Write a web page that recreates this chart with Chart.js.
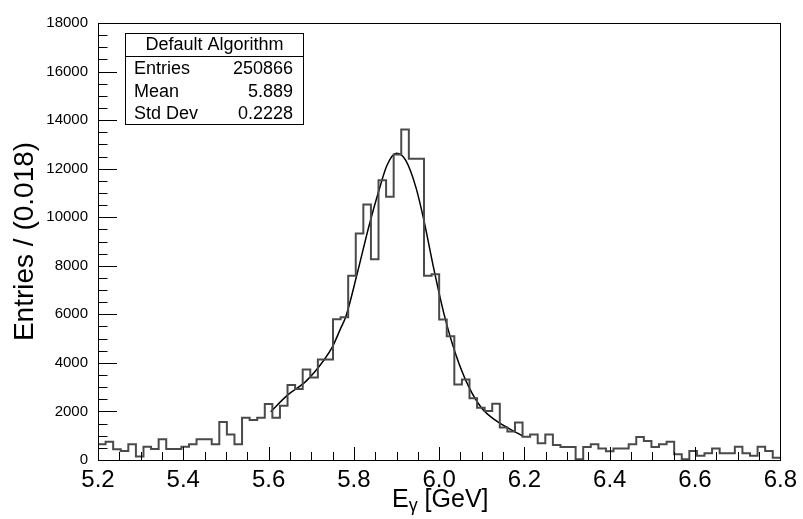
<!DOCTYPE html>
<html>
<head>
<meta charset="utf-8">
<script src="https://cdn.jsdelivr.net/npm/chart.js@4.4.1/dist/chart.umd.min.js"></script>
<style>
  html, body { margin: 0; padding: 0; background: #fff; }
</style>
</head>
<body>
<canvas id="hist" width="803" height="519"></canvas>
<script>
// E_gamma histogram, 90 bins between xMin and xMax
const xMin = 5.2;
const xMax = 6.8;
const binCounts = [
  650, 755, 440, 370, 645, 140, 550, 455, 850, 455,
  455, 550, 645, 850, 850, 645, 1565, 1055, 645, 1740,
  1645, 1740, 2310, 1740, 2235, 3090, 2920, 3730, 3400, 4140,
  4140, 5800, 5880, 7590, 9330, 10520, 8270, 11520, 10840, 12580,
  13610, 12410, 12410, 7590, 7650, 5790, 5100, 3110, 3320, 2540,
  2150, 2020, 2320, 1340, 1170, 1540, 960, 1055, 690, 1055,
  620, 540, 540, 30, 540, 645, 470, 360, 470, 470,
  645, 950, 785, 535, 645, 755, 235, 30, 370, 180,
  275, 470, 275, 275, 550, 275, 180, 550, 370, 95
];

// fitted curve
const fitX = [5.605, 5.645, 5.688, 5.730, 5.750, 5.769, 5.781, 5.808, 5.835, 5.859, 5.878, 5.900,
              5.921, 5.945, 5.964, 5.987, 6.011, 6.038, 6.069, 6.100, 6.131, 6.162, 6.196];
const fitY = [1990, 2680, 3250, 4120, 4670, 5420, 5900, 7690, 9610, 11120, 12150, 12630,
              12360, 11260, 9890, 7910, 6040, 4400, 3030, 2130, 1650, 1310, 990];

const statsTitle = 'Default Algorithm';
const statsNames = ['Entries', 'Mean', 'Std Dev'];
const statsValues = ['250866', '5.889', '0.2228'];

const FONT = '"Liberation Sans", Arial, Helvetica, sans-serif';
const binW = (xMax - xMin) / binCounts.length;

// step outline: each bin starts at its low edge, last point closes at xMax
const histPoints = binCounts.map((c, i) => ({ x: xMin + i * binW, y: c }));
histPoints.push({ x: xMax, y: binCounts[binCounts.length - 1] });
const fitPoints = fitX.map((x, i) => ({ x: x, y: fitY[i] }));

// ROOT-like frame, inner ticks, x title and stats box
const rootDecor = {
  id: 'rootDecor',
  afterDraw(chart) {
    const ctx = chart.ctx;
    const a = chart.chartArea;
    const xs = chart.scales.x, ys = chart.scales.y;
    ctx.save();
    ctx.strokeStyle = '#000';
    ctx.lineWidth = 1;
    ctx.strokeRect(Math.round(a.left) + 0.5, Math.round(a.top) + 0.5,
                   Math.round(a.right - a.left), Math.round(a.bottom - a.top));

    ctx.beginPath();
    for (let v = 0; v <= 18000; v += 500) {
      const py = Math.round(ys.getPixelForValue(v)) + 0.5;
      const len = v % 2000 === 0 ? 19 : 9.5;
      ctx.moveTo(a.left, py);
      ctx.lineTo(a.left + len, py);
    }
    for (let i = 0; i <= 32; i++) {
      const px = Math.round(xs.getPixelForValue(xMin + i * 0.05)) + 0.5;
      const len = i % 4 === 0 ? 13 : 8;
      ctx.moveTo(px, a.bottom);
      ctx.lineTo(px, a.bottom - len);
    }
    ctx.stroke();

    // x axis title with subscript gamma
    ctx.fillStyle = '#000';
    ctx.textBaseline = 'alphabetic';
    ctx.textAlign = 'left';
    let tx = 392;
    ctx.font = '25px ' + FONT;
    ctx.fillText('E', tx, 507);
    tx += ctx.measureText('E').width;
    ctx.font = '18px ' + FONT;
    ctx.fillText('\u03b3', tx, 511);
    tx += ctx.measureText('\u03b3').width;
    ctx.font = '25px ' + FONT;
    ctx.fillText(' [GeV]', tx, 507);

    // stats box
    const bx = 125.5, by = 33.5, bw = 178, bh = 91;
    ctx.fillStyle = '#fff';
    ctx.fillRect(bx, by, bw, bh);
    ctx.strokeRect(bx, by, bw, bh);
    ctx.beginPath();
    ctx.moveTo(bx, 56.5);
    ctx.lineTo(bx + bw, 56.5);
    ctx.stroke();
    ctx.fillStyle = '#000';
    ctx.font = '18px ' + FONT;
    ctx.textBaseline = 'middle';
    ctx.textAlign = 'center';
    ctx.fillText(statsTitle, bx + bw / 2, 45);
    const rowY = [69, 92, 114];
    statsNames.forEach((n, i) => {
      ctx.textAlign = 'left';
      ctx.fillText(n, 134, rowY[i]);
      ctx.textAlign = 'right';
      ctx.fillText(statsValues[i], 293, rowY[i]);
    });
    ctx.restore();
  }
};

new Chart(document.getElementById('hist'), {
  type: 'line',
  data: {
    datasets: [
      {
        label: 'hist',
        data: histPoints,
        stepped: true,
        borderColor: '#4a4a4a',
        borderWidth: 2,
        pointRadius: 0,
        fill: false
      },
      {
        label: 'fit',
        data: fitPoints,
        borderColor: '#000',
        borderWidth: 1.5,
        pointRadius: 0,
        cubicInterpolationMode: 'monotone',
        fill: false
      }
    ]
  },
  options: {
    responsive: false,
    animation: false,
    layout: { padding: { top: 23, right: 20, left: 0, bottom: 0 } },
    plugins: { legend: { display: false }, tooltip: { enabled: false } },
    scales: {
      x: {
        type: 'linear',
        min: xMin,
        max: xMax,
        grid: { display: false, drawTicks: false },
        border: { display: false },
        ticks: {
          stepSize: 0.2,
          autoSkip: false,
          maxRotation: 0,
          padding: 6,
          color: '#000',
          font: { family: FONT, size: 24 },
          callback: v => v.toFixed(1)
        },
        afterFit: s => { s.height = 59; }
      },
      y: {
        min: 0,
        max: 18000,
        grid: { display: false, drawTicks: false },
        border: { display: false },
        ticks: {
          stepSize: 2000,
          padding: 10,
          color: '#000',
          font: { family: FONT, size: 15 },
          callback: v => String(v)
        },
        title: {
          display: true,
          text: 'Entries / (0.018)',
          color: '#000',
          font: { family: FONT, size: 28 },
          padding: { top: 8, bottom: 0 }
        },
        afterFit: s => { s.width = 98; }
      }
    }
  },
  plugins: [rootDecor]
});
</script>
</body>
</html>
